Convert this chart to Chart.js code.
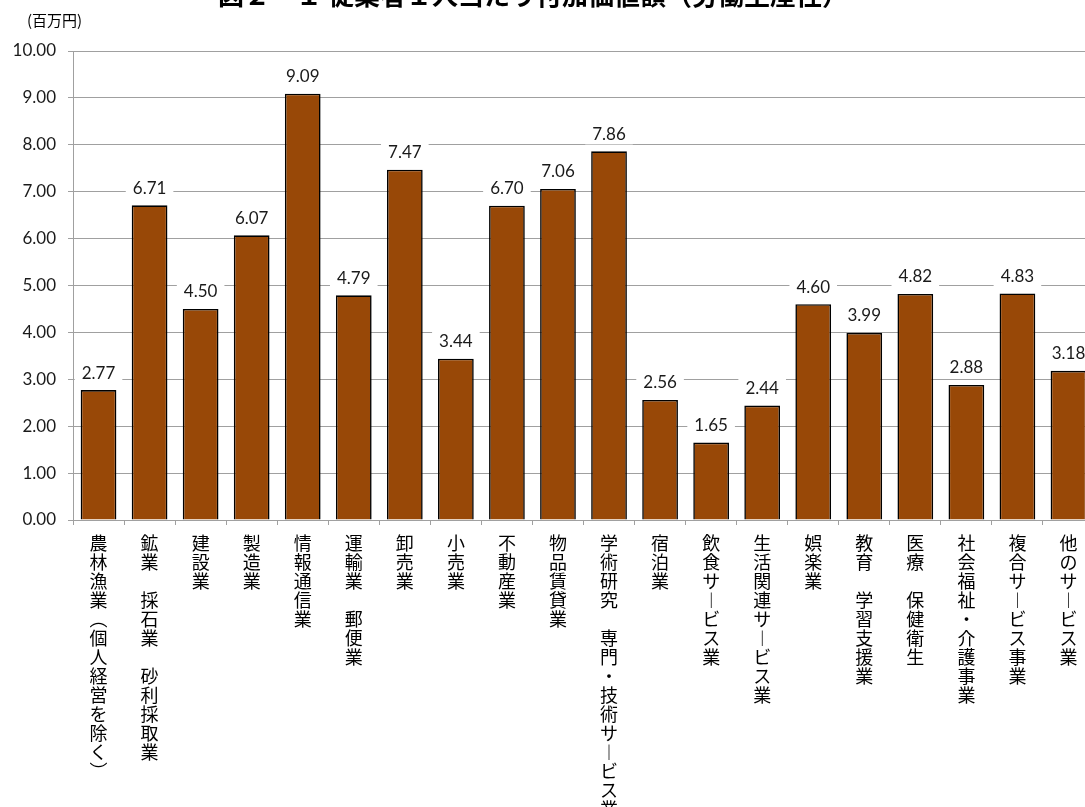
<!DOCTYPE html>
<html lang="ja">
<head>
<meta charset="utf-8">
<script src="https://cdn.jsdelivr.net/npm/chart.js@4.4.1/dist/chart.umd.min.js"></script>
<style>
  html, body { margin: 0; padding: 0; width: 1085px; height: 807px; overflow: hidden; background: #fff; }
  #chartBox { position: absolute; left: 0; top: 0; width: 1100px; height: 807px; }
  #chartTitle { position: absolute; left: 0; top: -19px; width: 1066px; text-align: center;
    font: bold 26px "Noto Sans CJK JP", sans-serif; line-height: 1; color: #000; white-space: nowrap; }
  #unit { position: absolute; left: 27px; top: 12px; font: 15px "Noto Sans CJK JP", sans-serif; line-height: 1; color: #000; }
</style>
</head>
<body>
<div id="chartBox"><canvas id="productivityChart" width="1100" height="807"></canvas></div>
<div id="chartTitle">図２－１ 従業者１人当たり付加価値額（労働生産性）</div>
<div id="unit">(百万円)</div>
<script>
const industries = [
    '農林漁業（個人経営を除く）', '鉱業　採石業　砂利採取業', '建設業', '製造業', '情報通信業',
    '運輸業　郵便業', '卸売業', '小売業', '不動産業', '物品賃貸業',
    '学術研究　専門・技術サービス業', '宿泊業', '飲食サービス業', '生活関連サービス業', '娯楽業',
    '教育　学習支援業', '医療　保健衛生', '社会福祉・介護事業', '複合サービス事業', '他のサービス業'
];
const valuePerWorker = [
    2.77, 6.71, 4.50, 6.07, 9.09,
    4.79, 7.47, 3.44, 6.70, 7.06,
    7.86, 2.56, 1.65, 2.44, 4.60,
    3.99, 4.82, 2.88, 4.83, 3.18
];
const yTicks = [0, 1, 2, 3, 4, 5, 6, 7, 8, 9, 10];

// one character per line, brackets and long vowel swapped for their vertical forms
const verticalForms = { '（': '︵', '）': '︶', 'ー': '︱' };
function toVertical(text) {
    return [...text].map(c => verticalForms[c] || c);
}

const barValueLabels = {
    id: 'barValueLabels',
    afterDatasetsDraw(chart) {
        const ctx = chart.ctx;
        const meta = chart.getDatasetMeta(0);
        ctx.save();
        ctx.font = '17px Lato, "Liberation Sans", sans-serif';
        ctx.textAlign = 'center';
        ctx.textBaseline = 'middle';
        meta.data.forEach((bar, i) => {
            const txt = valuePerWorker[i].toFixed(2);
            const w = ctx.measureText(txt).width + 14;
            const y = bar.y - 17;
            ctx.fillStyle = '#ffffff';
            ctx.fillRect(bar.x - w / 2, y - 10, w, 20);
            ctx.fillStyle = '#1a1a1a';
            ctx.fillText(txt, bar.x, y);
        });
        ctx.restore();
    }
};

Chart.defaults.font.family = 'Lato, "Liberation Sans", sans-serif';
Chart.defaults.color = '#1a1a1a';

new Chart(document.getElementById('productivityChart'), {
    type: 'bar',
    data: {
        labels: industries.map(toVertical),
        datasets: [{
            data: valuePerWorker,
            backgroundColor: '#984807',
            borderColor: '#000000',
            borderWidth: 1.6,
            barPercentage: 0.7,
            categoryPercentage: 1
        }]
    },
    options: {
        responsive: false,
        animation: false,
        layout: { padding: { top: 51, left: 0, right: 6, bottom: 0 } },
        plugins: {
            legend: { display: false },
            tooltip: { enabled: false }
        },
        scales: {
            x: {
                offset: true,
                grid: { offset: true, drawOnChartArea: false, drawTicks: true, tickLength: 5, color: '#a0a0a0' },
                border: { color: '#a0a0a0', width: 1 },
                ticks: {
                    autoSkip: false,
                    maxRotation: 0,
                    minRotation: 0,
                    padding: 9,
                    color: '#000',
                    font: { family: '"Noto Sans CJK JP", sans-serif', size: 18, lineHeight: 19 / 18 }
                },
                afterFit(scale) { scale.height = 807 - 520; }
            },
            y: {
                min: 0,
                max: 10,
                afterBuildTicks(scale) { scale.ticks = yTicks.map(v => ({ value: v })); },
                grid: { color: '#a0a0a0', tickLength: 5, drawTicks: true },
                border: { color: '#a0a0a0', width: 1 },
                ticks: {
                    padding: 12,
                    font: { size: 17 },
                    callback: v => Number(v).toFixed(2)
                },
                afterFit(scale) { scale.width = 73; }
            }
        }
    },
    plugins: [barValueLabels]
});
</script>
</body>
</html>
